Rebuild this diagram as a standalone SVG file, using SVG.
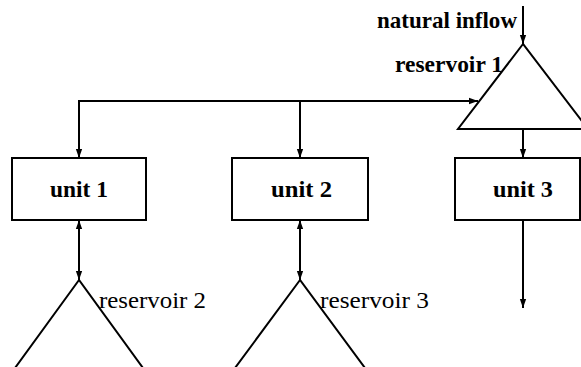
<svg xmlns="http://www.w3.org/2000/svg" width="581" height="367" viewBox="0 0 581 367">
<defs>
<style>
.box{fill:#fff;stroke:#000;stroke-width:2}
.tri{fill:#fff;stroke:#000;stroke-width:2;stroke-linejoin:miter}
.con{fill:none;stroke:#000;stroke-width:2}
.lb{font-family:"Liberation Serif",serif;font-weight:bold;font-size:23px;fill:#000}
.lr{font-family:"Liberation Serif",serif;font-size:23px;fill:#000}
</style>
<marker id="ah" viewBox="0 0 10 10" refX="10" refY="5" markerWidth="9" markerHeight="9" markerUnits="userSpaceOnUse" orient="auto-start-reverse">
<path d="M0,1.5 L10,5 L0,8.5 Z" fill="#000"/>
</marker>
</defs>
<rect width="581" height="367" fill="#fff"/>
<g id="reservoir1">
<polygon class="tri" points="523,44 458,129 588,129"/>
<text class="lb" x="395" y="72" textLength="108" lengthAdjust="spacingAndGlyphs">reservoir 1</text>
</g>
<g id="inflow-label">
<text class="lb" x="377" y="28" textLength="140" lengthAdjust="spacingAndGlyphs">natural inflow</text>
</g>
<g id="unit1">
<rect class="box" x="12" y="158" width="134" height="62"/>
<text class="lb" x="50" y="197" textLength="58" lengthAdjust="spacingAndGlyphs">unit 1</text>
</g>
<g id="unit2">
<rect class="box" x="232" y="158" width="136" height="62"/>
<text class="lb" x="271" y="197" textLength="61" lengthAdjust="spacingAndGlyphs">unit 2</text>
</g>
<g id="unit3">
<rect class="box" x="455" y="158" width="125" height="62"/>
<text class="lb" x="493" y="197" textLength="60" lengthAdjust="spacingAndGlyphs">unit 3</text>
</g>
<g id="reservoir2">
<polygon class="tri" points="79,280 15,368 143,368"/>
<text class="lr" x="99" y="308" textLength="107" lengthAdjust="spacingAndGlyphs">reservoir 2</text>
</g>
<g id="reservoir3">
<polygon class="tri" points="300,280 235,368 365,368"/>
<text class="lr" x="320" y="308" textLength="109" lengthAdjust="spacingAndGlyphs">reservoir 3</text>
</g>
<g id="connectors">
<line class="con" x1="523" y1="6" x2="523" y2="44" marker-end="url(#ah)"/>
<polyline class="con" points="79,158 79,101 478,101" marker-start="url(#ah)" marker-end="url(#ah)"/>
<line class="con" x1="300" y1="101" x2="300" y2="158" marker-end="url(#ah)"/>
<line class="con" x1="523" y1="129" x2="523" y2="158" marker-end="url(#ah)"/>
<line class="con" x1="79" y1="220" x2="79" y2="280" marker-start="url(#ah)" marker-end="url(#ah)"/>
<line class="con" x1="300" y1="220" x2="300" y2="280" marker-start="url(#ah)" marker-end="url(#ah)"/>
<line class="con" x1="523" y1="220" x2="523" y2="308" marker-end="url(#ah)"/>
</g>
</svg>
